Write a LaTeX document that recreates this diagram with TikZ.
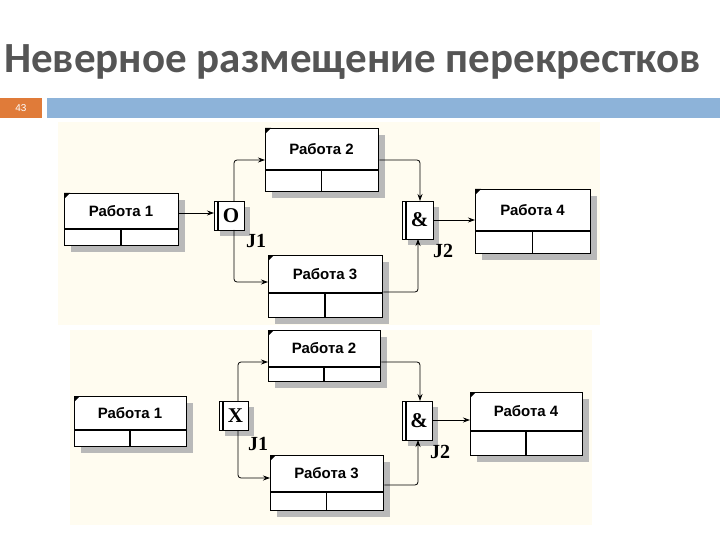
\documentclass[tikz,border=0pt]{standalone}
\usepackage{fontspec}
\setmainfont{Liberation Serif}
\newfontfamily\ttl{Carlito}
\newfontfamily\bx{Liberation Sans}
\usetikzlibrary{arrows.meta,patterns}
\definecolor{cream}{HTML}{FFFCF0}
\definecolor{ttlc}{HTML}{555555}
\definecolor{orng}{HTML}{E07B39}
\definecolor{blu}{HTML}{8DB3D9}
\tikzset{x=1pt,y=-1pt,
 conn/.style={draw=black,line width=0.8pt,-{Stealth[length=7pt,width=5pt]},rounded corners=3pt},
 shad/.style={fill=gray!55},
 lbl/.style={font=\bfseries\fontsize{20}{22}\selectfont}}
% \abox{name}{x1}{y1}{x2}{y2}{ydiv}{text}
\newcommand{\abox}[7]{%
 \fill[shad] (#2+7,#3+7) rectangle (#4+7,#5+7);
 \fill[white] (#2,#3) rectangle (#4,#5);
 \node[draw,line width=1.4pt,inner sep=0,minimum width=#4-#2,minimum height=#5-#3,anchor=north west] (#1) at (#2,#3) {};
 \node[font=\bx\bfseries\fontsize{15}{17}\selectfont] (#1t) at ({(#2+#4)/2},{(#3+#6)/2}) {#7};
 \draw[line width=1.4pt] (#2,#6) -- (#4,#6) ({(#2+#4)/2},#6) -- ({(#2+#4)/2},#5);
 \fill (#2,#3) -- (#2+6,#3) -- (#2,#3+6) -- cycle;}
% \jbox{name}{x1}{y1}{x2}{y2}{letter}
\newcommand{\jbox}[6]{%
 \fill[shad] (#2+6,#3+6) rectangle (#4+6,#5+6);
 \fill[white] (#2,#3) rectangle (#4,#5);
 \node[draw,line width=1.2pt,inner sep=0,minimum width=#4-#2,minimum height=#5-#3,anchor=north west] (#1) at (#2,#3) {};
 \node[font=\bfseries\fontsize{21}{22}\selectfont] (#1t) at ({(#2+#4)/2+2},{(#3+#5)/2}) {#6};
 \draw[line width=1.2pt] (#2+4,#3) -- (#2+4,#5);}
\begin{document}
\begin{tikzpicture}
\useasboundingbox (0,0) rectangle (720,540);
\fill[white] (0,0) rectangle (720,540);
\node[font=\ttl\bfseries\fontsize{43}{46}\selectfont,text=ttlc,anchor=west,inner sep=0] (title) at (4,62) {Неверное размещение перекрестков};
\fill[orng] (0,98) rectangle (42,118);
\node[font=\bx\fontsize{10}{11}\selectfont,text=white] (num) at (21,108) {43};
\fill[blu] (47,98) rectangle (720,118);
\fill[cream] (58,122) rectangle (600,325);
\fill[cream] (70,330) rectangle (592,525);
% top diagram
\abox{a1}{64}{193}{178}{245}{229}{Работа 1}
\abox{a2}{265}{128}{378}{191}{170}{Работа 2}
\abox{a3}{268}{255}{382}{317}{293}{Работа 3}
\abox{a4}{475}{189}{590}{253}{231}{Работа 4}
\jbox{j1}{214}{201}{244}{230}{O}
\jbox{j2}{402}{201}{433}{239}{\&}
\node[lbl] (l1) at (256,241) {J1};
\node[lbl] (l2) at (443,251) {J2};
\draw[conn] (a1.east|-0,213) -- (j1.west|-0,213);
\draw[conn] (234,201) |- (a2.west|-0,160);
\draw[conn] (234,230) |- (a3.west|-0,282);
\draw[conn] (a2.east|-0,160) -| (420,201);
\draw[conn] (a3.east|-0,292) -| (418,239);
\draw[conn] (j2.east|-0,220) -- (a4.west|-0,220);
% bottom diagram
\abox{b1}{74}{396}{186}{446}{430}{Работа 1}
\abox{b2}{268}{330}{380}{381}{367}{Работа 2}
\abox{b3}{270}{455}{383}{510}{492}{Работа 3}
\abox{b4}{470}{392}{582}{455}{431}{Работа 4}
\jbox{k1}{219}{401}{248}{430}{X}
\jbox{k2}{402}{401}{432}{440}{\&}
\node[lbl] (m1) at (258,444) {J1};
\node[lbl] (m2) at (440,452) {J2};
\draw[conn] (238,401) |- (b2.west|-0,362);
\draw[conn] (238,430) |- (b3.west|-0,478);
\draw[conn] (b2.east|-0,362) -| (420,401);
\draw[conn] (b3.east|-0,485) -| (418,440);
\draw[conn] (k2.east|-0,420) -- (b4.west|-0,420);
\end{tikzpicture}
\end{document}
